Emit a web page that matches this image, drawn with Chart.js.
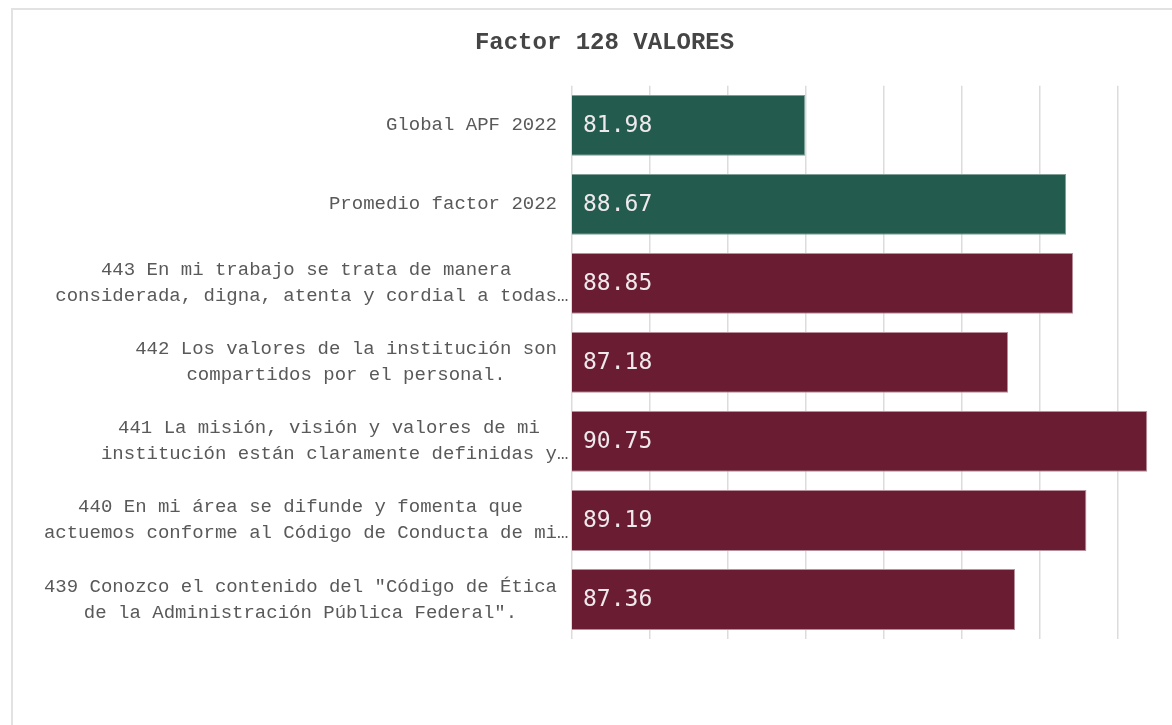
<!DOCTYPE html>
<html>
<head>
<meta charset="utf-8">
<script src="https://cdn.jsdelivr.net/npm/chart.js@4/dist/chart.umd.min.js"></script>
<style>
  html, body { margin: 0; padding: 0; background: #ffffff; overflow: hidden; }
  #frame {
    position: absolute; left: 11px; top: 8px;
    width: 1183px; height: 740px;
    border: 2px solid #e2e2e2;
    background: #ffffff;
  }
  #chartBox { position: relative; width: 1183px; height: 720px; }
</style>
</head>
<body>
<div id="frame">
  <div id="chartBox"><canvas id="factorChart"></canvas></div>
</div>
<script>
var titulo = "Factor 128 VALORES";

var categorias = [
  ["Global APF 2022"],
  ["Promedio factor 2022"],
  ["443 En mi trabajo se trata de manera", "considerada, digna, atenta y cordial a todas…"],
  ["442 Los valores de la institución son", "compartidos por el personal."],
  ["441 La misión, visión y valores de mi", "institución están claramente definidas y…"],
  ["440 En mi área se difunde y fomenta que", "actuemos conforme al Código de Conducta de mi…"],
  ["439 Conozco el contenido del \"Código de Ética", "de la Administración Pública Federal\"."]
];

var valores = [81.98, 88.67, 88.85, 87.18, 90.75, 89.19, 87.36];

var colores = ["#235b4e", "#235b4e", "#691c32", "#691c32", "#691c32", "#691c32", "#691c32"];
var bordes = ["#7e9e96", "#7e9e96", "#b8909b", "#b8909b", "#b8909b", "#b8909b", "#b8909b"];

var ejeMin = 76;
var ejeMax = 92;
var ejePaso = 2;

// etiquetas del eje Y: bloque alineado a la derecha, renglones centrados
var etiquetasY = {
  id: 'etiquetasY',
  afterDraw: function (chart) {
    var ctx = chart.ctx;
    var escala = chart.scales.y;
    var derecha = chart.chartArea.left - 15;
    var alto = 26;
    ctx.save();
    ctx.font = "19px 'Liberation Mono', monospace";
    ctx.fillStyle = "#595959";
    ctx.textBaseline = "middle";
    ctx.textAlign = "left";
    categorias.forEach(function (lineas, i) {
      var y = escala.getPixelForTick(i);
      var anchos = lineas.map(function (l) {
        return ctx.measureText(l.replace(/…$/, "")).width;
      });
      var bloque = Math.max.apply(null, anchos);
      var centro = derecha - bloque / 2;
      var y0 = y - (lineas.length - 1) * alto / 2;
      lineas.forEach(function (l, k) {
        ctx.fillText(l, centro - anchos[k] / 2, y0 + k * alto);
      });
    });
    ctx.restore();
  }
};

// valor dentro de cada barra
var valoresBarra = {
  id: 'valoresBarra',
  afterDraw: function (chart) {
    var ctx = chart.ctx;
    var ejeX = chart.scales.x;
    var ejeY = chart.scales.y;
    var x0 = ejeX.getPixelForValue(ejeMin);
    ctx.save();
    ctx.font = "23px 'DejaVu Sans Mono', monospace";
    ctx.fillStyle = "#efe9ec";
    ctx.textBaseline = "middle";
    ctx.textAlign = "left";
    valores.forEach(function (v, i) {
      ctx.fillText(v.toFixed(2), x0 + 11, ejeY.getPixelForTick(i) + 1);
    });
    ctx.restore();
  }
};

var ctx = document.getElementById("factorChart").getContext('2d');
var grafica = new Chart(ctx, {
  type: 'bar',
  data: {
    labels: categorias,
    datasets: [{
      data: valores,
      backgroundColor: colores,
      borderColor: bordes,
      borderWidth: 1,
      borderSkipped: false,
      barPercentage: 0.77,
      categoryPercentage: 1
    }]
  },
  options: {
    indexAxis: 'y',
    responsive: true,
    maintainAspectRatio: false,
    animation: false,
    layout: { padding: { left: 0, right: 0, top: 0, bottom: 91 } },
    plugins: {
      legend: { display: false },
      tooltip: { enabled: false },
      title: {
        display: true,
        text: titulo,
        color: "#454545",
        font: { family: "'Liberation Mono', monospace", size: 24, weight: 'bold', lineHeight: 1.2 },
        padding: { top: 19, bottom: 28 }
      }
    },
    scales: {
      x: {
        min: ejeMin,
        max: ejeMax,
        ticks: { display: false, stepSize: ejePaso },
        border: { display: false },
        grid: { color: "#dcdcdc", lineWidth: 1.5, drawTicks: false }
      },
      y: {
        ticks: { display: false },
        grid: { display: false, drawTicks: false },
        border: { display: false },
        afterFit: function (escala) { escala.width = 559; }
      }
    }
  },
  plugins: [etiquetasY, valoresBarra]
});
</script>
</body>
</html>
